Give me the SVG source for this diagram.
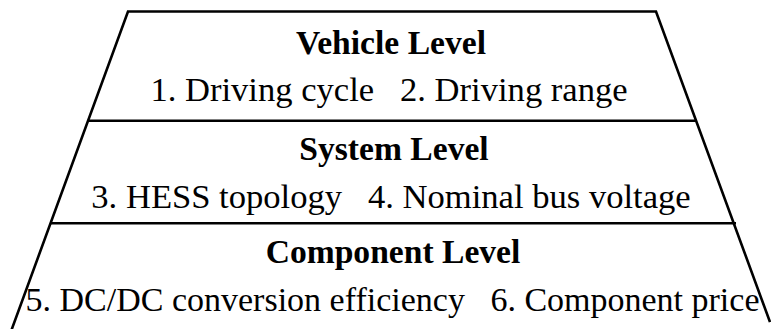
<svg xmlns="http://www.w3.org/2000/svg" width="771" height="329" viewBox="0 0 771 329">
<style>
.edge{fill:none;stroke:#000;stroke-width:2.6;stroke-linejoin:miter}
.t{font-family:"Liberation Serif","Times New Roman",serif;font-size:34.6px;fill:#000;text-anchor:middle}
.b{font-weight:bold;font-size:33.6px}
</style>
<rect width="771" height="329" fill="#fff"/>
<g id="connectors">
<polyline class="edge" points="11.5,330 128,11.5 656,11.5 770,322"/>
<line class="edge" x1="88" y1="120.7" x2="697" y2="120.7"/>
<line class="edge" x1="51" y1="223.3" x2="736" y2="223.3"/>
</g>
<g id="vehicle">
<text class="t b" x="391" y="54">Vehicle Level</text>
<text class="t" x="389" y="101" xml:space="preserve">1. Driving cycle   2. Driving range</text>
</g>
<g id="system">
<text class="t b" x="394" y="160">System Level</text>
<text class="t" x="391" y="208" xml:space="preserve">3. HESS topology   4. Nominal bus voltage</text>
</g>
<g id="component">
<text class="t b" x="393" y="263">Component Level</text>
<text class="t" x="392.5" y="311" style="font-size:34px" xml:space="preserve">5. DC/DC conversion efficiency   6. Component price</text>
</g>
</svg>
